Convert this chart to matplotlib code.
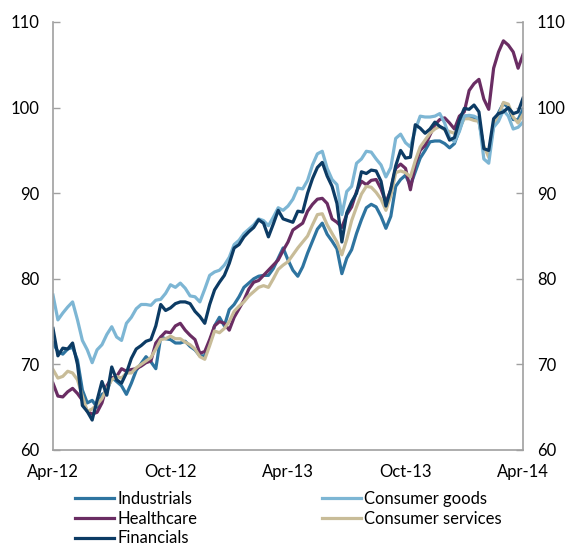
import matplotlib
matplotlib.use("Agg")
import matplotlib.pyplot as plt

plt.rcParams['font.family'] = ['Lato', 'DejaVu Sans']

# months since Apr-12, quarter-month steps (97 points)
months = [i * 0.25 for i in range(97)]

consumer_goods = [
    78.1, 75.2, 76.0, 76.7, 77.3, 75.2, 72.8, 71.7, 70.2, 71.7, 72.3, 73.5, 74.4, 73.2, 72.8, 74.8,
    75.5,
    76.5, 77.0, 77.0, 76.9, 77.5, 77.6, 78.3, 79.3, 79.0, 79.5, 78.9, 78.0, 77.9, 77.3, 78.8,
    80.4,
    80.8, 81.0, 81.6, 82.5, 84.0, 84.5, 85.3, 85.8, 86.3, 87.0, 86.8, 86.2, 87.2, 88.3, 88.0, 88.5,
    89.3,
    90.6, 90.5, 91.5, 93.3, 94.6, 94.9, 92.9, 91.6, 91.0, 87.5, 90.2, 90.8, 93.5, 94.0, 94.9,
    94.8,
    94.0, 93.3, 91.9, 93.0, 96.4, 96.9, 95.9, 95.4, 97.4, 99.0, 98.9, 98.9, 99.0, 99.3, 98.2,
    96.5, 96.0, 97.2, 99.0, 99.1, 99.0, 98.7, 94.0, 93.5, 97.7, 98.4, 99.7, 99.0, 97.5, 97.7, 98.3]

financials = [
    74.2, 71.0, 71.9, 71.8, 72.5, 70.0, 65.2, 64.5, 63.5, 65.8, 68.0, 66.4, 69.7, 68.2, 67.8, 69.0,
    70.7,
    71.8, 72.2, 72.7, 72.9, 74.5, 77.0, 76.3, 76.6, 77.1, 77.3, 77.3, 77.1, 76.2, 75.6, 74.8,
    77.0,
    78.7, 79.6, 80.4, 81.8, 83.6, 84.0, 84.9, 85.5, 86.0, 86.9, 86.5, 84.9, 86.4, 88.0, 87.0, 86.8,
    86.6,
    87.9, 87.8, 90.0, 91.7, 93.0, 93.6, 92.0, 90.8, 88.8, 84.3, 87.7, 89.0, 90.0, 92.5, 92.3,
    92.7,
    92.6, 91.4, 88.5, 90.5, 93.2, 95.0, 94.1, 94.2, 98.0, 97.6, 97.0, 97.5, 98.3, 97.8, 97.5,
    96.2, 96.5, 98.5, 99.9, 99.8, 100.3, 99.5, 95.2, 95.0, 98.7, 99.3, 99.5, 100.0, 99.3, 99.5, 101.1]

healthcare = [
    67.8, 66.3, 66.2, 66.8, 67.2, 66.6, 65.8, 64.5, 64.2, 64.4, 65.5, 67.5, 68.4, 68.6, 69.5, 69.2,
    69.4,
    69.5, 69.8, 70.2, 70.4, 72.5, 73.2, 73.8, 73.7, 74.5, 74.8, 74.0, 73.4, 72.9, 71.3, 71.5,
    72.9,
    74.5, 75.0, 74.8, 74.0, 75.5, 76.5, 77.5, 78.8, 79.6, 79.8, 80.4, 81.0, 81.6, 82.2, 83.3, 84.3,
    85.7,
    86.1, 86.5, 87.9, 88.7, 89.3, 89.4, 88.8, 87.0, 86.6, 86.0, 87.5, 88.4, 90.2, 91.4, 91.0,
    91.5,
    91.6, 90.5, 88.9, 90.4, 92.9, 93.4, 92.9, 90.4, 93.4, 95.0, 95.6, 96.8, 98.0, 98.6, 98.8,
    98.2, 97.5, 99.0, 99.5, 102.0, 102.8, 103.3, 101.0, 99.8, 104.6, 106.5, 107.8, 107.3, 106.5, 104.6, 106.2]

consumer_services = [
    69.4, 68.4, 68.6, 69.2, 69.0, 68.2, 66.3, 64.5, 64.8, 65.3, 66.0, 67.2, 68.2, 68.6, 68.4, 69.0,
    69.0,
    69.6, 70.0, 70.4, 70.8, 71.8, 72.9, 73.0, 73.3, 73.0, 73.0, 72.6, 72.3, 71.8, 70.9, 70.6,
    72.2,
    73.9, 73.7, 74.2, 75.0, 76.2, 76.8, 77.3, 78.0, 78.5, 79.0, 79.2, 79.0, 80.0, 81.1, 81.6, 82.0,
    82.8,
    83.6, 84.3, 85.0, 86.3, 87.5, 87.6, 86.3, 85.3, 84.3, 82.8, 84.6, 86.8, 88.4, 89.9, 90.8,
    90.7,
    90.1, 89.3, 88.0, 89.7, 92.4, 92.6, 92.4, 91.9, 93.8, 95.4, 96.2, 97.0, 97.5, 97.8, 97.4,
    97.2, 97.0, 97.6, 98.7, 98.7, 98.5, 98.4, 95.5, 94.2, 98.0, 99.0, 100.6, 100.4, 98.9, 98.2, 99.2]

industrials = [
    72.5, 71.5, 71.2, 71.8, 72.0, 70.5, 67.0, 65.5, 65.8, 65.0, 66.5, 66.8, 68.5, 68.0, 67.5, 66.5,
    67.8,
    69.3, 70.1, 70.9, 70.3, 69.5, 73.2, 73.0, 72.9, 72.5, 72.5, 72.7, 72.1, 71.7, 71.0, 71.0,
    72.5,
    74.5, 75.5, 74.5, 76.4, 77.0, 77.9, 79.0, 79.5, 80.0, 80.3, 80.4, 80.4, 81.2, 82.4, 83.6, 82.2,
    81.0,
    80.3, 81.4, 83.0, 84.4, 85.8, 86.5, 85.2, 84.4, 83.5, 80.6, 82.4, 83.4, 85.3, 86.9, 88.3,
    88.7,
    88.4, 87.3, 85.9, 87.3, 90.8, 91.6, 92.1, 90.9, 92.5, 94.1, 95.0, 96.0, 96.1, 96.1, 95.8,
    95.3, 95.8, 97.4, 99.0, 99.0, 98.8, 98.4, 95.3, 94.6, 98.0, 99.4, 100.5, 100.0, 98.6, 98.6, 99.8]

tick_months = [0, 6, 12, 18, 24]
tick_labels = ['Apr-12', 'Oct-12', 'Apr-13', 'Oct-13', 'Apr-14']
y_ticks = [60, 70, 80, 90, 100, 110]

colors = {
    'Industrials': '#2e74a0',
    'Consumer goods': '#7db6d4',
    'Healthcare': '#6a2d63',
    'Consumer services': '#c8bc98',
    'Financials': '#0c3b64',
}

fig = plt.figure(figsize=(5.66, 5.48), dpi=100)
ax = fig.add_axes([53 / 566, 1 - 450 / 548, 470 / 566, 428 / 548])

lw = 2.3
lines = {}
for name, data in [('Industrials', industrials), ('Healthcare', healthcare),
                   ('Consumer services', consumer_services),
                   ('Consumer goods', consumer_goods), ('Financials', financials)]:
    lines[name], = ax.plot(months, data, color=colors[name], lw=lw,
                           solid_joinstyle='round', label=name)

ax.set_xlim(0, 24)
ax.set_ylim(60, 110)
ax.set_xticks(tick_months)
ax.set_xticklabels(tick_labels)
ax.set_yticks(y_ticks)
ax.tick_params(axis='x', length=0, pad=10, labelsize=12)
ax.tick_params(axis='y', direction='in', length=5, width=1, color='#a0a0a0',
               pad=10, labelsize=12, left=True, right=True,
               labelleft=True, labelright=True)
for s in ['left', 'right', 'bottom']:
    ax.spines[s].set_color('#a0a0a0')
    ax.spines[s].set_linewidth(1.2)
ax.spines['top'].set_visible(False)

leg_kw = dict(frameon=False, fontsize=12, handlelength=2.35, handletextpad=0.2,
              labelspacing=0.22, borderaxespad=0, borderpad=0)
left_names = ['Industrials', 'Healthcare', 'Financials']
right_names = ['Consumer goods', 'Consumer services']
fig.legend([lines[n] for n in left_names], left_names,
           loc='upper left', bbox_to_anchor=(75 / 566, 1 - 491 / 548), **leg_kw)
fig.legend([lines[n] for n in right_names], right_names,
           loc='upper left', bbox_to_anchor=(322 / 566, 1 - 491 / 548), **leg_kw)

fig.savefig('out.png', dpi=100)
